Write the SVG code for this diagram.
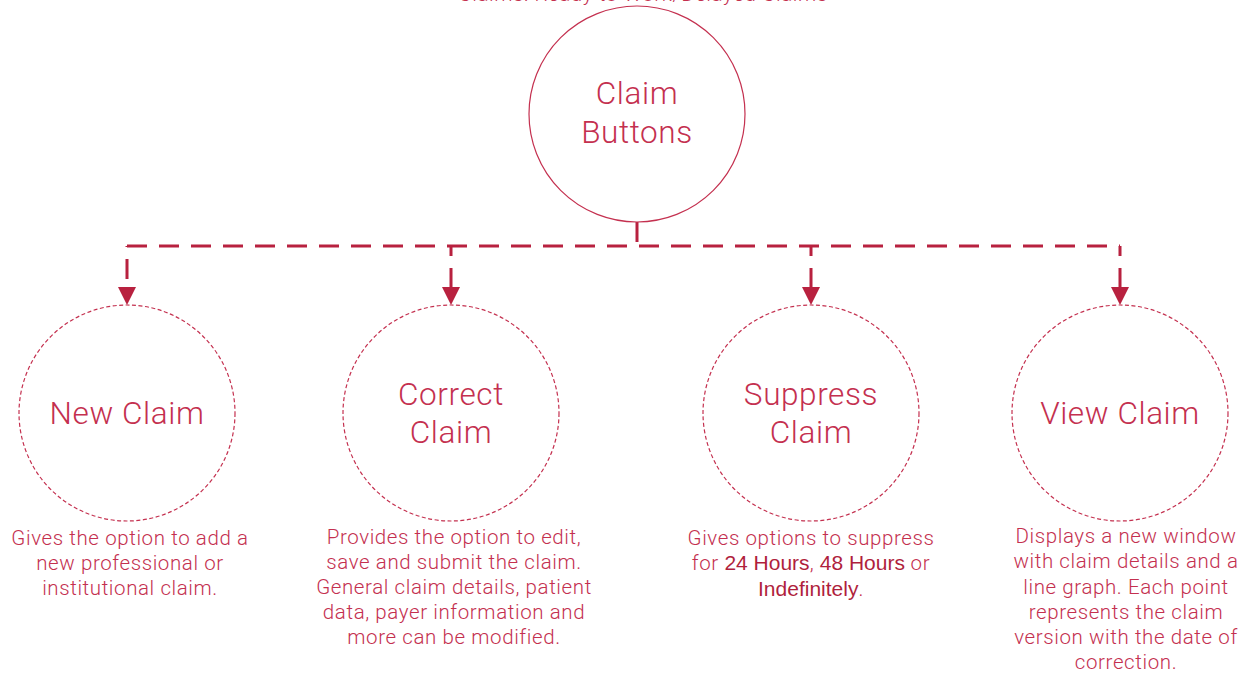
<svg xmlns="http://www.w3.org/2000/svg" width="1240" height="675" viewBox="0 0 1240 675">
<defs>
<style>
.t{font-family:Roboto,"Liberation Sans",sans-serif;font-weight:300;fill:#c4304f;text-anchor:middle}
.big{font-size:31.5px;letter-spacing:0.6px}
.d{font-size:20.5px;letter-spacing:0.6px}
.b{font-family:"Liberation Sans",Arial,sans-serif;font-weight:400;fill:#b01f3d;letter-spacing:0;font-size:21px}
.node{fill:#fff;stroke:#c4304f;stroke-width:1.2}
.dash{stroke-dasharray:4 2.5}
.con{fill:none;stroke:#b8213f;stroke-width:3;stroke-dasharray:20 12}
.ah{fill:#b8213f}
</style>
</defs>
<rect width="1240" height="675" fill="#fff"/>
<text class="t d" x="643" y="1">Claims: Ready to Work/Delayed Claims</text>
<g id="connectors">
<line x1="637" y1="222" x2="637" y2="242" stroke="#b8213f" stroke-width="3"/>
<path class="con" d="M127,246 L1120,246"/>
<path class="con" d="M127,279 L127,246"/>
<path class="con" d="M451,288 L451,246"/>
<path class="con" d="M811,288 L811,246"/>
<path class="con" d="M1120,288 L1120,246"/>
<path class="ah" d="M118,287 L136,287 L127,305 Z"/>
<path class="ah" d="M442,287 L460,287 L451,305 Z"/>
<path class="ah" d="M802,287 L820,287 L811,305 Z"/>
<path class="ah" d="M1111,287 L1129,287 L1120,305 Z"/>
</g>
<g id="claim-buttons">
<circle class="node" cx="637" cy="114" r="108"/>
<text class="t big" x="637" y="104">Claim</text>
<text class="t big" x="637" y="143">Buttons</text>
</g>
<g id="new-claim">
<circle class="node dash" cx="127" cy="413" r="108"/>
<text class="t big" x="127" y="424">New Claim</text>
<text class="t d"><tspan x="130" y="545">Gives the option to add a</tspan><tspan x="130" y="570">new professional or</tspan><tspan x="130" y="595">institutional claim.</tspan></text>
</g>
<g id="correct-claim">
<circle class="node dash" cx="451" cy="413" r="108"/>
<text class="t big" x="451" y="405">Correct</text>
<text class="t big" x="451" y="443">Claim</text>
<text class="t d"><tspan x="454" y="544">Provides the option to edit,</tspan><tspan x="454" y="569">save and submit the claim.</tspan><tspan x="454" y="594">General claim details, patient</tspan><tspan x="454" y="619">data, payer information and</tspan><tspan x="454" y="644">more can be modified.</tspan></text>
</g>
<g id="suppress-claim">
<circle class="node dash" cx="811" cy="413" r="108"/>
<text class="t big" x="811" y="405">Suppress</text>
<text class="t big" x="811" y="443">Claim</text>
<text class="t d"><tspan x="811" y="545">Gives options to suppress</tspan><tspan x="811" y="570">for <tspan class="b">24 Hours</tspan>, <tspan class="b">48 Hours</tspan> or</tspan><tspan x="811" y="596"><tspan class="b">Indefinitely</tspan>.</tspan></text>
</g>
<g id="view-claim">
<circle class="node dash" cx="1120" cy="413" r="108"/>
<text class="t big" x="1120" y="424">View Claim</text>
<text class="t d"><tspan x="1126" y="543">Displays a new window</tspan><tspan x="1126" y="568">with claim details and a</tspan><tspan x="1126" y="594">line graph. Each point</tspan><tspan x="1126" y="619">represents the claim</tspan><tspan x="1126" y="644">version with the date of</tspan><tspan x="1126" y="669">correction.</tspan></text>
</g>
</svg>
